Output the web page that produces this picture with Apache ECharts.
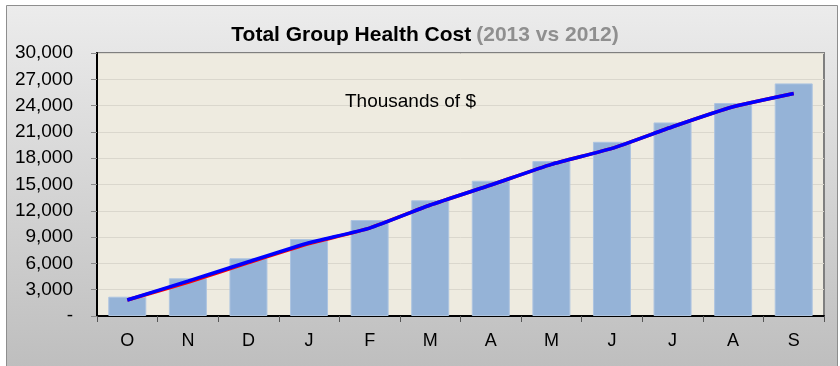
<!DOCTYPE html>
<html>
<head>
<meta charset="utf-8">
<script src="https://cdn.jsdelivr.net/npm/echarts@6/dist/echarts.min.js"></script>
<style>
  html, body { margin: 0; padding: 0; background: #ffffff; }
  #chart { width: 840px; height: 366px; }
</style>
</head>
<body>
<div id="chart"></div>
<script>
// Months of the fiscal year (October through September)
const months = ['O', 'N', 'D', 'J', 'F', 'M', 'A', 'M', 'J', 'J', 'A', 'S'];

// Cumulative cost, thousands of $
const cost2013 = [2200, 4300, 6580, 8780, 10950, 13200, 15430, 17670, 19870, 22080, 24290, 26530];
const line2012 = [1820, 3850, 6080, 8250, 10030, 12660, 14940, 17300, 19120, 21590, 23870, 25390];
const line2013 = [1820, 3970, 6190, 8360, 10030, 12660, 14940, 17300, 19120, 21590, 23870, 25390];

// Value axis settings
const yMin = 0;
const yMax = 30000;
const yStep = 3000;

const chart = echarts.init(document.getElementById('chart'), null, { renderer: 'canvas' });

const fontFamily = '"Liberation Sans", Arial, sans-serif';

chart.setOption({
  animation: false,
  graphic: [{
    type: 'rect',
    z: -1,
    shape: { x: 6.5, y: 5.5, width: 831, height: 370 },
    style: {
      fill: new echarts.graphic.LinearGradient(0, 0, 0, 1, [
        { offset: 0, color: '#ececec' },
        { offset: 1, color: '#bdbdbd' }
      ]),
      stroke: '#8e8e8e',
      lineWidth: 1
    }
  }, {
    type: 'text',
    z: 10,
    left: 345,
    top: 92,
    style: {
      text: 'Thousands of $',
      fill: '#000000',
      font: '19px ' + fontFamily
    }
  }],
  title: {
    text: '{a|Total Group Health Cost} {b|(2013 vs 2012)}',
    left: 420,
    textAlign: 'center',
    top: 20,
    textStyle: {
      rich: {
        a: { fontFamily: fontFamily, fontSize: 21, fontWeight: 'bold', color: '#000000' },
        b: { fontFamily: fontFamily, fontSize: 21, fontWeight: 'bold', color: '#8f8f8f' }
      }
    }
  },
  grid: {
    left: 97,
    right: 16,
    top: 53,
    bottom: 50,
    show: true,
    backgroundColor: '#eeebe0',
    borderColor: '#7f7f7f',
    borderWidth: 2
  },
  xAxis: {
    type: 'category',
    data: months,
    boundaryGap: true,
    axisLine: { show: true, lineStyle: { color: '#000000', width: 2 } },
    axisTick: { show: true, length: 6, alignWithLabel: false, lineStyle: { color: '#555555' } },
    axisLabel: { color: '#000000', fontFamily: fontFamily, fontSize: 18, margin: 16 },
    splitLine: { show: false }
  },
  yAxis: {
    type: 'value',
    min: yMin,
    max: yMax,
    interval: yStep,
    axisLine: { show: true, lineStyle: { color: '#000000', width: 2 } },
    axisTick: { show: true, length: 6, lineStyle: { color: '#888888' } },
    axisLabel: {
      color: '#000000',
      fontFamily: fontFamily,
      fontSize: 19,
      margin: 24,
      formatter: function (v) {
        return v === 0 ? '-' : v.toLocaleString('en-US');
      }
    },
    splitLine: { show: true, lineStyle: { color: '#dad7cd', width: 1 } }
  },
  series: [{
    name: '2013',
    type: 'bar',
    data: cost2013,
    barWidth: 38,
    itemStyle: { color: '#95b3d7', borderColor: '#adc4e0', borderWidth: 1 },
    z: 2
  }, {
    name: '2012',
    type: 'line',
    data: line2012,
    smooth: 0.15,
    symbol: 'none',
    lineStyle: { color: '#ff0000', width: 3.5 },
    z: 3
  }, {
    name: '2013 trend',
    type: 'line',
    data: line2013,
    smooth: 0.15,
    symbol: 'none',
    lineStyle: { color: '#0000ff', width: 3.5 },
    z: 4
  }]
});
</script>
</body>
</html>
